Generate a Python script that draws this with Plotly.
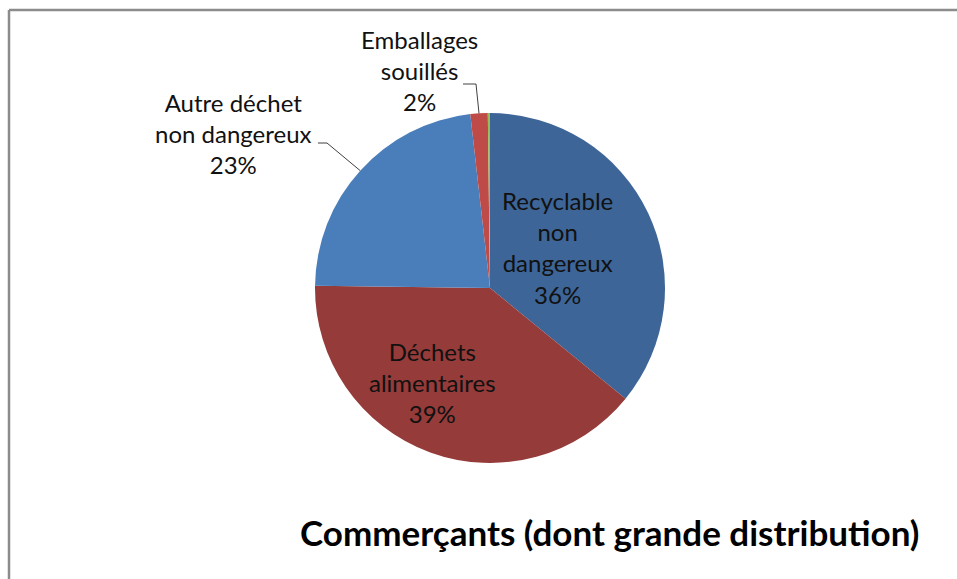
import math
import plotly.graph_objects as go

# ---- data ----
categories = ["Recyclable non dangereux", "Déchets alimentaires",
              "Autre déchet non dangereux", "Emballages souillés", "Autre"]
values = [35.9, 39.3, 23.0, 1.6, 0.2]
colors = ["#3D6597", "#953B39", "#4A7EBB", "#BE4B48", "#9BBB59"]
label_texts = ["Recyclable<br>non<br>dangereux<br>36%",
               "Déchets<br>alimentaires<br>39%",
               "Autre déchet<br>non dangereux<br>23%",
               "Emballages<br>souillés<br>2%"]
title_text = "Commerçants (dont grande distribution)"

W, H = 957, 579
CX, CY, R = 490, 288, 175  # pie centre/radius in pixels


def px(x):
    return x / W


def py(y):
    return 1 - y / H


FONT = "Lato, Calibri, 'Open Sans', sans-serif"

fig = go.Figure(go.Pie(
    labels=categories, values=values, sort=False, direction="clockwise",
    rotation=0, textinfo="none", hoverinfo="label+percent",
    marker=dict(colors=colors, line=dict(width=0)),
    domain=dict(x=[px(CX - R), px(CX + R)], y=[py(CY + R), py(CY - R)]),
    showlegend=False,
))

# edge points of slices (from data) for leader lines
total = sum(values)
cum = 0
mids = []
for v in values:
    mids.append((cum + v / 2) / total * 2 * math.pi)
    cum += v


def edge(i):
    a = mids[i]
    return CX + R * math.sin(a), CY - R * math.cos(a)


shapes = []
# frame
shapes.append(dict(type="line", xref="paper", yref="paper", x0=px(9), x1=px(W + 5),
                   y0=py(10), y1=py(10), line=dict(color="#8C8C8C", width=2.5)))
shapes.append(dict(type="line", xref="paper", yref="paper", x0=px(9), x1=px(9),
                   y0=py(10), y1=py(H + 5), line=dict(color="#8C8C8C", width=2.5)))

# leader lines
ex, ey = edge(2)
shapes.append(dict(type="path", xref="paper", yref="paper",
                   path=f"M {px(318)},{py(143)} L {px(327)},{py(143)} L {px(ex)},{py(ey)}",
                   line=dict(color="#404040", width=1)))
ex, ey = edge(3)
shapes.append(dict(type="path", xref="paper", yref="paper",
                   path=f"M {px(463)},{py(84)} L {px(476)},{py(84)} L {px(ex)},{py(ey)}",
                   line=dict(color="#404040", width=1)))

label_pos = [(557, 247), (432, 382), (233, 134), (419, 70)]
annotations = []
for txt, (x, y) in zip(label_texts, label_pos):
    annotations.append(dict(text=txt, x=px(x), y=py(y), xref="paper", yref="paper",
                            showarrow=False, xanchor="center", yanchor="middle",
                            align="center", font=dict(family=FONT, size=24, color="#111111")))
annotations.append(dict(text="<b>" + title_text + "</b>", x=px(921), y=py(532),
                        xref="paper", yref="paper", showarrow=False,
                        xanchor="right", yanchor="middle",
                        font=dict(family=FONT, size=35, color="#000000")))

fig.update_layout(width=W, height=H, margin=dict(l=0, r=0, t=0, b=0),
                  paper_bgcolor="white", plot_bgcolor="white",
                  shapes=shapes, annotations=annotations)

fig.write_html("out.html")
